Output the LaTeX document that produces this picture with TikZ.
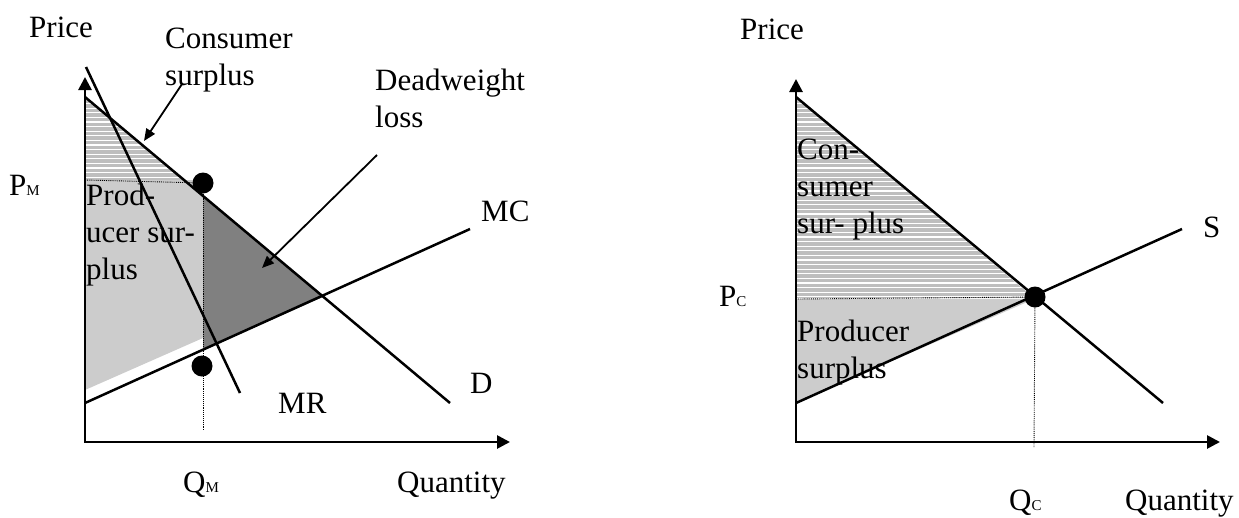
\documentclass[tikz,border=0pt]{standalone}
\usepackage{fontspec}
\setmainfont{Liberation Serif}
\usetikzlibrary{arrows.meta}

\definecolor{pslight}{HTML}{CCCCCC}
\definecolor{dwldark}{HTML}{808080}
\definecolor{csstripe}{HTML}{BEBEBE}

\tikzset{
  curve/.style={line width=2.5pt},
  axis/.style={line width=2.7pt,{Triangle[length=13pt,width=13pt]}-{Triangle[length=13pt,width=13pt]}},
  guide/.style={densely dotted,line width=0.9pt},
  pointer/.style={line width=1.8pt,-{Triangle[length=12pt,width=10pt]}},
  lbl/.style={inner sep=0pt,anchor=base west,font=\fontsize{31}{37}\selectfont},
  blk/.style={lbl,align=left},
  eqdot/.style={circle,fill=black,minimum size=21pt,inner sep=0pt},
}
\newcommand{\smallsub}[1]{{\fontsize{15}{15}\selectfont #1}}

\begin{document}
\begin{tikzpicture}[x=1pt,y=-1pt]
\useasboundingbox (0,0) rectangle (1239,517);

% monopoly
\coordinate (o1) at (85,442);
\coordinate (ytip1) at (85,77);
\coordinate (xtip1) at (510,442);
\coordinate (d1a) at (85,97);
\coordinate (d1b) at (450,403);
\coordinate (mr1a) at (86,67);
\coordinate (mr1b) at (240,393);
\coordinate (mc1a) at (85,403);
\coordinate (mc1b) at (470,229);
\coordinate (pm) at (85,180);
\coordinate (qm) at (203,430);
\coordinate (eff1) at (323,297);

\fill[pslight] (85,180) -- (203,180) -- (203,338) -- (85,390) -- cycle;
\fill[dwldark] (203,196) -- (eff1) -- (203,350) -- cycle;
\begin{scope}
  \clip (d1a) -- (184,180) -- (pm) -- cycle;
  \fill[csstripe] (85,95) rectangle (210,182);
  \foreach \k in {0,...,18}
    \draw[white,line width=1.3pt] (85,{99+4.6*\k}) -- ++(130,0);
\end{scope}

\draw[axis] (ytip1) -- (o1) -- (xtip1);
\draw[curve] (d1a) -- (d1b);
\draw[curve] (mr1a) -- (mr1b);
\draw[curve] (mc1a) -- (mc1b);

\node[eqdot] (mono) at (203,183) {};
\draw[guide] (pm) -- (mono);
\draw[guide] (mono) -- (qm);
\node[eqdot] (mclow) at (202,366) {};

\node[lbl] (price1) at (29,37) {Price};
\node[blk] (cslabel) at (165,85) {Consumer\\surplus};
\coordinate (csfrom) at (182,84);
\coordinate (cstip) at (144,141);
\draw[pointer] (csfrom) -- (cstip);
\node[blk] (dwllabel) at (375,127) {Deadweight\\loss};
\coordinate (dwlfrom) at (377,155);
\coordinate (dwltip) at (262,268);
\draw[pointer] (dwlfrom) -- (dwltip);
\node[lbl] (pmlabel) at (9,195) {P\smallsub{M}};
\node[blk] (pslabel1) at (86,279) {Prod-\\ucer sur-\\plus};
\node[lbl] (mclabel) at (481,221) {MC};
\node[lbl] (mrlabel) at (278,413) {MR};
\node[lbl] (dlabel1) at (470,393) {D};
\node[lbl] (qmlabel) at (183,492) {Q\smallsub{M}};
\node[lbl] (qty1) at (397,492) {Quantity};

% competition
\coordinate (o2) at (796,442);
\coordinate (ytip2) at (796,79);
\coordinate (xtip2) at (1220,442);
\coordinate (d2a) at (796,97);
\coordinate (d2b) at (1163,403);
\coordinate (s2a) at (796,403);
\coordinate (s2b) at (1182,229);
\coordinate (pc) at (796,299);
\coordinate (qc) at (1034,447);

\fill[pslight] (pc) -- (1034,299) -- (s2a) -- cycle;
\begin{scope}
  \clip (d2a) -- (1034,298) -- (796,298) -- cycle;
  \fill[csstripe] (796,95) rectangle (1040,300);
  \foreach \k in {0,...,43}
    \draw[white,line width=1.3pt] (796,{99+4.6*\k}) -- ++(250,0);
\end{scope}

\draw[axis] (ytip2) -- (o2) -- (xtip2);
\draw[curve] (d2a) -- (d2b);
\draw[curve] (s2a) -- (s2b);

\node[eqdot] (comp) at (1035,297) {};
\draw[guide] (pc) -- (comp);
\draw[guide] (comp) -- (qc);

\node[lbl] (price2) at (740,39) {Price};
\node[blk] (cslabel2) at (797,233) {Con-\\sumer\\sur- plus};
\node[blk] (pslabel2) at (797,378) {Producer\\surplus};
\node[lbl] (pclabel) at (719,306) {P\smallsub{C}};
\node[lbl] (slabel) at (1203,237) {S};
\node[lbl] (qclabel) at (1009,510) {Q\smallsub{C}};
\node[lbl] (qty2) at (1125,510) {Quantity};
\end{tikzpicture}
\end{document}
